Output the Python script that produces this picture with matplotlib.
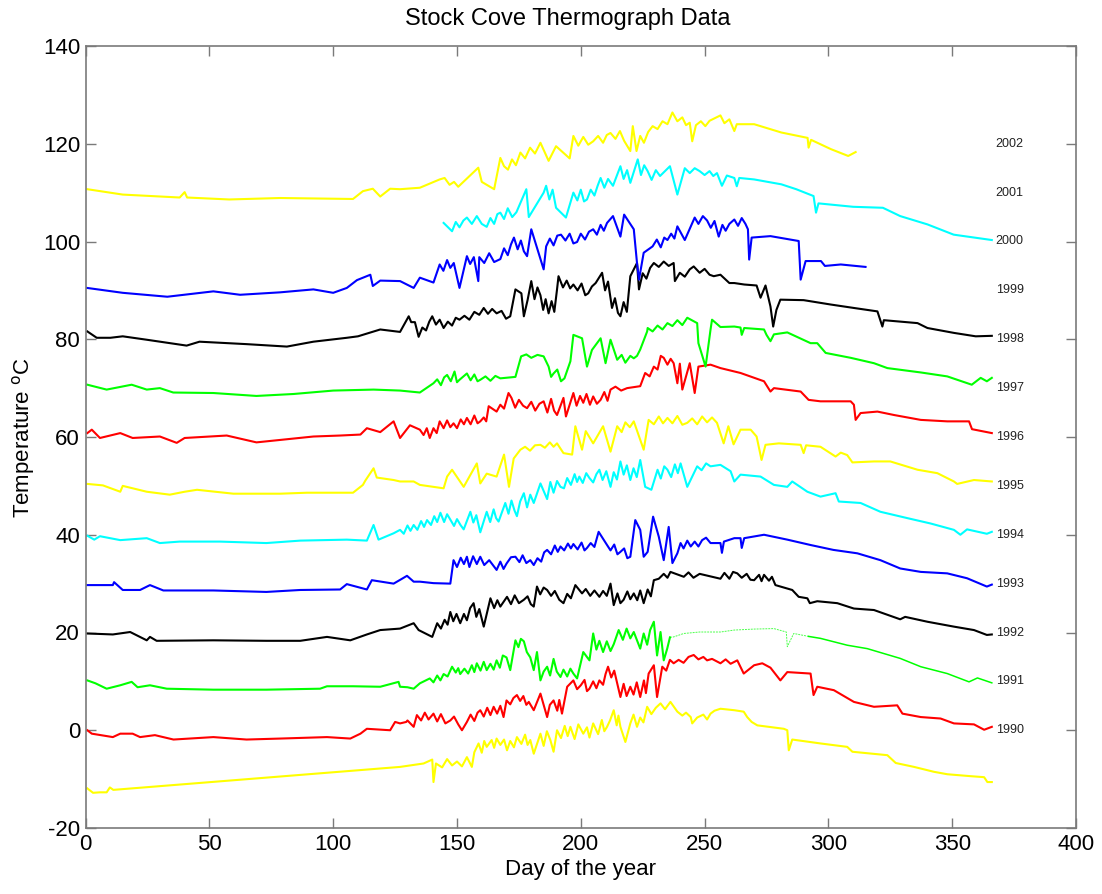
import matplotlib
matplotlib.use("Agg")
import matplotlib.pyplot as plt

plt.rcParams['font.family'] = ['Liberation Sans', 'DejaVu Sans']

# ---- data: (day of year, offset temperature) ----
s1989_yellow = [(0.7,-11.9),(3,-12.8),(5.8,-12.7),(8.5,-12.7),(9.8,-11.7),(11.2,-12.2),(127,-7.5),(136.5,-6.8),
    (140,-6.0),(140.5,-10.6),(141.5,-6.8),(150,-6.4),(154,-5.5),(156,-7.5),(158.7,-2.7),(162,-3.4),(166,-1.7),
    (170.2,-4.1),(174.2,-1.4),(179.6,-2.0),(181,-4.8),(183.7,-0.7),(187.7,-2.0),(189,-4.4),(190.4,0.0),(195.8,0.7),
    (201,-0.7),(205,1.4),(210.6,0.7),(213.3,4.1),(216,0.7),(218,-2.4),(220,1.4),(222.7,0.7),(226.8,4.8),(232.2,5.5),
    (236.2,5.8),(239,3.8),(244.4,2.7),(245,1.4),(252.4,3.4),(256.4,4.4),(262,4.1),(265.8,3.8),(267.2,2.7),(269,1.7),
    (271.3,1.0),(282,0.3),(283.4,0.0),(284,-4.1),(285.4,-1.9),(296.8,-2.7),(307.6,-3.4),(309.7,-4.4),(323.8,-5.1),
    (327.2,-6.7),(334.6,-7.5),(342.6,-8.5),(348,-9.0),(357.5,-9.4),(362.9,-9.6),(364.2,-10.6),(366,-10.6)]
s1989_yellow_detail = [(144,-7.6),(146,-5.9),(148,-7.2),(152,-7.4),(157,-4.5),(160,-4.6),(161,-2.2),(164,-2.0),
    (165,-3.6),(167.5,-3.0),(169,-1.9),(171.5,-2.2),(173,-3.5),(176,-2.8),(177.5,-0.9),(178.5,-3.0),(185,-3.2),
    (186.3,-0.2),(192,-1.6),(193.5,0.9),(194.7,-1.2),(197.5,-1.8),(199,1.2),(202.5,0.6),(203.5,-1.5),(207,-0.8),
    (208.5,2.1),(209.5,-0.2),(211.8,2.0),(214.5,1.0),(215.2,3.0),(221.3,3.2),(224,2.6),(225.3,1.6),(228.5,3.3),
    (230.3,4.6),(234,4.3),(241,3.0),(242.5,3.6),(247,2.6),(249.5,3.2),(251,2.2),(254,4.0)]

s1990_red = [(0.7,0.0),(2.5,-0.7),(11,-1.4),(14,-0.7),(19,-0.7),(22,-1.4),(28,-1.0),(35.5,-1.9),(51.6,-1.4),(65,-1.9),
    (78.6,-1.7),(97.5,-1.4),(106.9,-1.7),(111,-0.7),(113.6,0.3),(123,0.0),(125,1.7),(127,1.4),(129.5,1.7),(130,2.0),
    (132.5,0.7),(133.8,3.1),(140.5,3.4),(147.3,2.0),(152,0.0),(154,1.7),(159.4,4.1),(164.8,4.8),(168.8,2.7),(170,6.1),
    (174.2,7.2),(179,5.8),(181,4.1),(183.7,7.5),(186.4,2.7),(189,6.1),(192.4,3.4),(194.5,8.9),(197,10.2),(200,9.2),
    (203.5,8.5),(207.5,10.2),(211,13.0),(214.7,9.6),(216,6.8),(220,8.9),(224,6.8),(227.4,11.6),(229.5,13.3),
    (230.8,6.8),(232.9,13.0),(237.5,13.7),(245.6,15.4),(251,14.3),(256.4,13.7),(263.2,14.3),(265.8,11.6),(270,13.3),
    (273.3,13.7),(276.6,12.8),(280.6,10.2),(283.4,11.9),(292.8,11.6),(294,7.2),(295.5,8.9),(302.2,8.2),(310.3,5.8),
    (318.4,4.8),(327.8,5.1),(329.9,3.4),(337.3,2.7),(345.3,2.4),(350.7,1.4),(358.8,1.2),(362.9,0.1),(366,0.7)]
s1990_red_detail = [(135.5,2.0),(137,3.6),(138.5,2.2),(142,1.8),(143.5,3.3),(145.3,1.4),(148.8,2.8),(150.5,1.2),
    (155.5,3.2),(157,1.9),(158.3,3.6),(160.8,2.8),(162.2,4.6),(163.5,3.1),(166.2,3.4),(167.5,5.0),(171.5,5.3),
    (172.8,6.6),(175.5,6.0),(176.8,7.0),(178,5.2),(187.5,5.2),(190.5,4.0),(191.3,6.2),(198.5,8.4),(201.5,10.3),
    (202.5,8.0),(205,10.0),(206.3,8.6),(209,9.3),(210,11.5),(212.3,10.8),(213.5,12.2),(217.3,9.5),(218.5,7.0),
    (221.3,7.3),(222.6,9.8),(225.5,10.2),(226.3,7.6),(234.5,12.2),(236,14.4),(239.5,14.4),(241.5,13.8),(243.5,15.0),
    (247.5,14.5),(249.5,15.0),(253,14.6),(258.5,14.5),(260.5,13.6)]

s1991_green = [(0.7,10.2),(4,9.6),(8.5,8.5),(14,9.2),(18.6,9.9),(21,8.8),(26,9.2),(32.8,8.5),(51.6,8.3),(73,8.3),
    (94.7,8.5),(97.5,9.0),(108,9.0),(119,8.9),(126.4,9.9),(127,8.9),(130,8.8),(132.5,8.5),(135,9.6),(139,10.6),
    (144.6,11.5),(148,13.0),(151.3,11.5),(158,13.7),(162,12.3),(166,14.3),(170,14.9),(171.5,12.3),(173.6,18.4),
    (177,18.2),(179.6,14.9),(181,12.3),(182.3,16.0),(183.7,10.2),(186.4,13.0),(189,14.6),(191.8,10.9),(195.8,12.6),
    (198.5,10.6),(201,16.0),(203.5,14.3),(205,19.8),(209,16.0),(213.3,17.6),(215.3,20.5),(221.4,20.1),(224,16.7),
    (225.4,19.8),(229.5,22.2),(230.8,15.3),(232.2,20.1),(233.5,14.3),(234.9,16.7),(236,19.0)]
s1991_green_detail = [(140.5,9.8),(142,11.2),(143.3,10.2),(146.2,11.0),(149.5,11.8),(150.5,12.7),(153,12.6),
    (154.5,11.6),(156,13.3),(157,11.9),(159.5,12.2),(160.8,14.0),(163.5,13.6),(164.8,12.4),(167.3,12.8),(168.5,15.3),
    (174.8,17.0),(175.8,18.7),(178.2,16.0),(185,12.0),(187.6,11.2),(190.3,12.0),(193,12.4),(194.5,11.0),(197,11.6),
    (206.3,16.5),(207.5,18.3),(210.5,18.2),(212,16.2),(217,18.5),(218.5,20.8),(220,18.8),(226.8,17.5),(228,20.5)]
s1991_green_faint = [(236,19.0),(237.5,19.1),(241.6,19.8),(248,20.1),(256.4,20.1),(262,20.5),(270,20.7),(278,20.8),
    (283,20.1),(283.4,17.1),(286,19.8),(292,19.2)]
s1991_green_late = [(292,19.2),(296.8,18.8),(307.6,17.4),(315.7,16.7),(329,14.7),(337.3,13.0),(348,11.6),(356.8,9.9),
    (360.2,10.7),(366,9.7)]

s1992_black = [(0.7,19.8),(11,19.6),(18,20.1),(24.7,18.4),(26,19.1),(28.7,18.3),(51.6,18.4),(73,18.3),(86.7,18.3),
    (97.5,19.1),(106.9,18.4),(113.6,19.6),(119,20.5),(127,20.8),(132.5,21.9),(134.5,20.5),(140,19.1),(142,21.9),
    (147.3,24.2),(151.3,21.9),(156.7,26.0),(160.8,21.2),(163.5,27.0),(167.5,25.3),(170.2,27.3),(177,26.7),(181,25.3),
    (182.3,29.4),(186.4,28.7),(193,26.0),(197.8,29.7),(200.5,28.0),(207.5,27.3),(212,30.0),(213.3,25.6),(217.3,26.7),
    (221.4,28.0),(225.4,26.0),(229.5,30.7),(236.2,32.4),(241.6,31.4),(248,32.0),(256.4,31.0),(263.2,32.1),(270,30.7),
    (274,31.8),(278.6,29.7),(285.4,28.7),(288,27.3),(291.5,27.0),(292.5,26.0),(295.5,26.4),(303.6,26.0),(310.3,24.9),
    (318.4,24.6),(329,22.7),(331,23.2),(340,22.2),(350.7,21.2),(358.8,20.5),(364,19.5),(366,19.6)]
s1992_black_detail = [(143.5,20.8),(145,22.6),(146.2,21.6),(148.5,22.3),(149.8,23.8),(152.8,23.8),(154,22.5),
    (155.3,25.0),(157.8,23.2),(159,24.8),(165,25.0),(166.3,26.6),(171.8,25.8),(173.3,27.6),(175,26.0),(178.5,27.4),
    (179.8,25.8),(183.6,27.8),(185,29.2),(188,27.5),(189.5,28.5),(191.3,26.7),(194.5,27.9),(196,27.0),(202,28.9),
    (203.8,27.5),(205.5,28.6),(209,28.5),(210.5,27.5),(214.8,28.0),(216,26.0),(218.8,28.4),(220,26.8),(222.8,26.6),
    (224,28.6),(227,28.8),(228.3,27.4),(231.5,31.0),(233.5,32.0),(235,31.2),(243.5,32.3),(245.5,31.2),(258,32.2),
    (260,31.0),(261.5,32.4),(265,31.2),(267,32.0),(268.5,30.8),(272,31.8),(273,30.5),(276,30.6),(277.2,31.4)]

s1993_blue = [(0.7,29.7),(4,29.7),(11,29.7),(11.5,30.3),(15,28.7),(22,28.7),(26,29.7),(31.4,28.6),(51.6,28.6),(73,28.3),
    (86.7,28.7),(102.8,28.8),(105.5,29.9),(113.6,28.8),(115.6,30.7),(124.4,30.0),(127.8,31.0),(129.8,31.6),(132.5,30.4),
    (135,30.4),(140.5,30.1),(147.3,30.0),(148.6,34.8),(154,35.5),(155,33.4),(159.4,35.5),(163,34.8),(166,32.8),
    (170,34.1),(173.6,35.5),(179.6,34.8),(181,33.8),(186.4,36.9),(191.8,37.6),(197,38.1),(202.5,37.3),(207.2,40.6),
    (210.6,37.9),(216,36.5),(220,35.5),(222,43.0),(224,41.0),(225.4,35.5),(227,36.5),(229.2,43.7),(231.5,39.6),
    (233.5,34.8),(235.5,41.6),(237,34.2),(239,36.2),(240.3,38.3),(244.4,37.6),(249,38.9),(252.4,38.3),(256.4,38.3),
    (257,36.3),(257.8,38.6),(262,39.3),(264.5,39.3),(265,37.3),(266,39.3),(274,40.0),(283.4,39.0),(292.8,37.9),
    (302,36.9),(311.7,36.2),(321,34.8),(329,33.1),(337.3,32.4),(348,32.1),(356,31.1),(364,29.4),(366,29.8)]
s1993_blue_detail = [(150,33.4),(151.5,35.3),(152.8,34.0),(156.5,35.6),(158,34.0),(161,33.8),(167.5,34.5),(168.8,33.0),
    (171.8,35.4),(175.2,34.4),(176.5,35.8),(178,34.2),(182.5,35.2),(184,34.5),(185.2,36.4),(188,36.0),(189.5,37.8),
    (190.7,36.5),(193.3,36.8),(194.8,38.2),(196,37.2),(198.7,37.0),(200.3,38.4),(201.5,36.8),(204,38.3),(205.5,37.5),
    (212,36.8),(213.5,38.0),(214.8,36.0),(217.5,37.2),(218.8,35.2),(241.5,37.2),(243,38.8),(246,38.6),(247.5,37.6),
    (250.6,39.4)]

s1994_cyan = [(0.7,39.8),(3.5,39.0),(5.8,39.7),(14,38.9),(24.7,39.3),(30,38.3),(38,38.6),(54.3,38.6),(73,38.3),
    (86.7,38.8),(105.5,39.0),(113.6,38.8),(116.3,42.0),(118.3,39.0),(124.4,40.3),(127,41.0),(132.5,42.0),(137.9,43.0),
    (143.3,44.5),(147.3,43.1),(152.7,41.1),(155.4,44.7),(159.4,40.5),(162,44.7),(166.8,42.7),(169.5,46.5),(174.2,43.8),
    (177,48.5),(181,46.5),(183.7,50.5),(186.4,47.3),(187.7,50.8),(191.8,49.8),(194.5,51.6),(199.4,51.9),(203.5,51.6),
    (207.5,53.3),(212,49.8),(216,55.0),(220,51.2),(224,55.3),(226,49.8),(228.5,49.2),(231,53.3),(235,53.3),
    (240.3,54.6),(243,49.8),(247,54.0),(252.4,54.0),(256.4,54.3),(260.5,53.0),(262,50.9),(264.5,52.3),(272.6,51.9),
    (278,50.2),(283.4,49.8),(285.4,50.9),(291.5,48.8),(296.8,47.8),(302.9,48.5),(304.2,46.8),(313,46.5),(321,44.7),
    (331.9,43.4),(341.3,42.3),(350.7,41.0),(353.3,40.0),(356,41.1),(364,40.2),(366,40.6)]
s1994_cyan_detail = [(128.5,40.2),(130,41.9),(131.2,40.8),(134,41.0),(135.5,42.8),(136.7,41.6),(139.5,42.0),
    (140.8,43.8),(142,42.6),(144.8,42.6),(146,44.2),(148.8,41.8),(150,43.2),(151.4,42.0),(156.6,42.5),(157.8,44.0),
    (163.4,42.6),(164.8,45.2),(165.8,43.4),(170.8,44.3),(172,47.0),(173.2,45.0),(175.5,46.8),(178.3,45.6),
    (179.6,48.2),(189,48.6),(190.4,51.0),(193.2,49.5),(196,50.2),(197.5,52.4),(198.5,50.8),(200.8,50.6),(202.2,52.6),
    (205,50.7),(206.3,52.4),(208.8,51.2),(210.3,53.0),(213.3,52.8),(214.6,51.3),(217.3,52.3),(218.6,54.2),
    (221.3,53.6),(222.6,51.8),(232.3,51.5),(233.7,54.0),(236.5,51.8),(238,54.4),(239.2,52.6),(248.8,53.2),(250.6,54.6)]

s1995_yellow = [(0.7,50.4),(7,50.1),(14,48.8),(15,50.0),(24.7,48.8),(34,48.2),(40,48.8),(45,49.2),(59.7,48.4),
    (78.6,48.4),(89.4,48.6),(108,48.6),(112,50.2),(113,51.1),(116.3,53.6),(117.6,51.7),(124.4,51.2),(127,50.9),
    (132.5,50.9),(135,50.2),(144.6,49.5),(146,51.9),(148,53.3),(152.7,49.8),(158,54.6),(159.4,50.5),(162,52.5),
    (166,51.9),(169,56.4),(171,49.8),(172.9,55.6),(175.6,57.4),(183.7,58.4),(190.4,58.7),(193,56.7),(196.5,56.4),
    (197.8,62.2),(200.5,57.4),(202,61.2),(205,58.7),(209,62.2),(212,57.0),(214.7,62.2),(221.4,63.2),(225.4,57.4),
    (227.4,63.5),(235,63.9),(243,62.9),(249,64.2),(255,62.9),(257.7,58.7),(259.6,62.2),(261.7,58.5),(264.5,61.5),
    (268.6,61.5),(271,60.1),(273,55.3),(274.6,58.4),(280,58.7),(288.8,58.4),(290,56.7),(291,58.3),(296.8,58.0),
    (302.9,56.0),(305,56.8),(307.6,56.3),(309.7,54.8),(318.4,55.0),(325,55.0),(336,53.3),(344,52.6),(350.7,50.9),
    (352,50.4),(358.8,51.2),(366,50.9)]
s1995_yellow_detail = [(177.5,58.0),(179.5,57.2),(181.5,58.3),(185.5,57.8),(187.5,58.9),(189,58.0),(216.5,61.0),
    (218,63.0),(219.8,62.0),(229.5,62.6),(231.5,64.2),(233.2,62.8),(237,62.8),(239,64.3),(241,62.5),(245,63.8),
    (247,62.6),(251,63.0),(253,64.0)]

s1996_red = [(0.7,60.8),(2.5,61.5),(5.8,59.8),(14,60.8),(19,59.8),(30,60.1),(36.8,58.8),(40,59.8),(57,60.3),(69,58.9),
    (78.6,59.4),(92,60.1),(102.8,60.3),(111,60.5),(113.6,61.8),(119,61.0),(124.4,63.2),(127,59.8),(131,62.4),(135,61.5),
    (139,59.8),(143,63.2),(148.6,62.8),(154,63.9),(159.4,63.2),(162.8,66.3),(166,65.2),(170.8,69.0),(172,68.0),
    (178.3,65.9),(185,67.3),(190.4,64.5),(193,68.0),(194,64.2),(197,69.0),(201,67.0),(205,68.3),(208,67.6),(212,69.7),
    (218.7,70.0),(224,70.4),(226,73.1),(229.5,74.4),(233.5,76.2),(237.5,75.1),(239,71.0),(240,75.0),(241,69.7),
    (244,75.1),(246,69.0),(247.5,74.4),(252.4,74.8),(256.4,74.1),(264.5,73.1),(274,71.4),(276.6,69.3),(278,70.0),
    (288.8,69.3),(292,67.6),(296.8,67.3),(309,67.3),(310.3,66.6),(311,63.5),(313,64.9),(319.8,65.2),(326.5,64.5),
    (337.3,63.5),(348,63.2),(356.8,63.2),(358,61.6),(366,60.8)]
s1996_red_detail = [(136.5,60.4),(137.8,61.8),(140.5,61.8),(141.8,60.8),(144.6,61.8),(146,63.4),(147.3,62.0),
    (150,61.8),(151.5,63.6),(152.8,62.6),(155.5,62.6),(157,64.4),(158.3,62.8),(160.8,64.0),(161.8,63.2),(167.5,66.6),
    (169,65.8),(173.5,66.0),(175,67.6),(176.7,66.4),(180,67.2),(181.6,65.4),(183.3,66.8),(186.5,65.0),(188,67.8),
    (189.2,65.4),(198.3,66.4),(199.7,68.4),(202.3,68.8),(203.7,66.6),(206.5,66.8),(209.5,69.2),(210.8,67.4),
    (214,70.3),(216.3,69.5),(227.8,72.4),(231,73.8),(232.3,76.6),(235,74.8),(236.3,76.0)]

s1997_green = [(0.7,70.7),(8.5,69.7),(18.6,70.7),(24.7,69.7),(30,70.0),(35.4,69.1),(51.6,69.0),(69,68.4),(84,68.8),
    (100,69.5),(116.3,69.7),(127,69.5),(135,69.1),(140.5,71.0),(146,72.7),(151,71.7),(154,73.0),(159.4,71.7),
    (167.5,72.0),(173.6,72.3),(175.9,76.5),(185,76.5),(187,74.4),(189,73.0),(193.4,72.0),(195.8,75.5),(197,80.9),
    (200.5,80.2),(202.5,74.4),(204.5,77.8),(208,80.2),(210,75.1),(212,79.9),(214.7,75.8),(221.4,76.1),(224,77.9),
    (226.8,81.6),(227,82.3),(235,83.3),(243,84.4),(247,83.3),(247.5,79.2),(250.4,74.4),(252.4,82.0),(253,84.0),
    (256.4,82.5),(262,82.6),(264.5,82.4),(265,80.9),(266,82.3),(274,82.0),(275,80.9),(276.6,79.6),(278,81.0),
    (283.4,81.4),(292.8,79.2),(295.5,79.2),(298.9,77.2),(309,76.2),(318.4,75.1),(323.8,74.1),(337.4,73.2),(348,72.4),
    (357.9,70.7),(361.5,72.1),(364,71.4),(366,72.1)]
s1997_green_detail = [(142,71.8),(143.5,70.6),(144.8,72.2),(147.5,71.4),(149,73.4),(150,71.2),(155.5,71.6),
    (157,72.8),(158.3,71.4),(161.5,72.4),(163.5,71.5),(165.5,72.5),(178,76.9),(180,76.2),(182.5,76.8),(188,72.3),
    (190.5,73.8),(192,71.4),(216.5,76.8),(218,75.2),(220,76.6),(222.7,76.6),(229,81.6),(231,82.8),(233,82.0),
    (237,82.7),(239,83.9),(241,82.9)]

s1998_black = [(0.7,81.6),(4.5,80.3),(10,80.3),(15,80.6),(24.7,79.9),(40.8,78.7),(46,79.5),(65,79.0),(81.3,78.5),
    (92,79.5),(105.5,80.3),(110,80.6),(119,82.0),(127,81.5),(130.5,84.7),(131.5,83.5),(133,83.5),(134.5,80.5),
    (140,84.7),(144.6,82.3),(151,84.0),(160.8,86.4),(166,85.3),(171.5,84.7),(173.6,90.2),(176,89.4),(177,84.7),
    (180,91.9),(183.7,89.0),(187,85.3),(190.4,90.2),(191,92.9),(197,91.2),(203,89.4),(206,91.5),(208.6,93.6),
    (212.6,86.4),(216,84.7),(220,92.9),(222.7,95.6),(223.5,90.2),(229.5,95.6),(237.5,95.6),(238,91.9),(245.6,94.9),
    (253.7,92.9),(256.4,93.2),(260,91.5),(262,91.5),(266,91.2),(271,91.0),(272.6,88.5),(274.6,91.0),(276.6,86.7),
    (277.7,82.6),(279,86.0),(280.6,88.1),(290,88.0),(301,87.1),(310.3,86.4),(319.8,85.7),(321.8,82.6),(322.4,83.9),
    (336,83.3),(340,82.3),(350.7,81.3),(359.5,80.6),(366,80.7)]
s1998_black_detail = [(136,82.4),(137.5,81.8),(138.8,83.6),(141.5,83.0),(143,84.0),(146.3,83.6),(148,82.8),
    (149.5,84.4),(153,84.8),(155,84.0),(157,85.6),(159,85.0),(162.5,85.2),(164.2,86.2),(168,85.8),(169.8,84.2),
    (178.5,88.0),(181.3,88.2),(182.5,90.6),(184.8,86.0),(185.8,88.2),(188.2,87.8),(189.3,85.6),(192.8,90.6),
    (194.3,92.0),(195.7,90.4),(198.7,90.0),(200.3,91.4),(201.8,89.0),(204.5,90.8),(209.8,90.0),(211,91.8),
    (213.8,88.4),(215,85.4),(217.3,87.6),(218.6,85.6),(225,93.5),(226.5,92.4),(228,94.6),(231.5,94.8),(233.5,95.9),
    (235.5,95.0),(240,93.6),(242,92.8),(244,94.3),(248,93.6),(250,94.4),(252,93.2)]

s1999_blue = [(0.6,90.5),(15,89.5),(33,88.7),(51.6,89.8),(62.4,89.1),(78.6,89.6),(92,90.2),(100,89.5),(105.5,90.5),
    (109.6,92.1),(115,93.2),(116,90.9),(119,92.0),(127,91.9),(132.5,90.5),(135,92.6),(140.5,91.6),(143,95.3),
    (148.7,95.6),(151,90.5),(154,97.0),(158.6,91.9),(159,96.8),(167.5,96.4),(173,100.8),(178.3,97.0),(180,102.5),
    (185,94.3),(186,99.0),(192,101.4),(198.5,99.9),(205,102.5),(210.6,103.8),(213,105.2),(216,101.0),(217.5,105.5),
    (221.4,102.5),(222.7,95.6),(223.5,92.2),(225.4,97.7),(229,99.0),(235,100.3),(239,103.1),(242,100.3),(246,104.9),
    (251,104.3),(255.7,101.0),(260,103.6),(262,104.5),(266.5,103.6),(267.5,102.5),(268,96.3),(269,100.8),
    (276.6,101.1),(288,100.1),(288.8,92.2),(290.8,96.0),(297,96.0),(298.6,95.0),(305,95.3),(315,94.8)]
s1999_blue_detail = [(144.5,94.0),(146,96.2),(147.3,94.6),(155.3,95.4),(156.8,96.8),(161,95.6),(163,97.6),(165,95.8),
    (169,98.6),(170.5,97.2),(171.8,99.4),(174.5,98.4),(175.8,100.2),(177,98.0),(187.5,100.6),(189,99.2),(190.5,101.2),
    (193.8,100.2),(195.5,101.6),(197,99.6),(200,101.6),(201.7,100.4),(203.3,102.0),(206.5,101.4),(208,103.4),
    (209.3,102.2),(230.7,100.4),(232.3,98.8),(233.7,100.8),(236.5,101.6),(237.8,100.6),(247.5,103.6),(249.3,105.2),
    (252.5,102.8),(254,104.2),(257.2,103.4),(258.5,102.2),(263.5,103.2),(265,104.8)]

s2000_cyan = [(144.6,103.8),(148,102.1),(154,104.9),(162,103.0),(167.5,105.9),(174,106.0),(178,110.7),(179,105.0),
    (185,110.0),(186,111.4),(190,106.9),(194,104.9),(197,110.0),(202.5,108.6),(208,113.0),(213,111.4),(216,115.4),
    (220,112.0),(223,116.8),(227,114.4),(232,113.4),(236,115.4),(239,109.6),(242,115.0),(248,114.4),(255,114.0),
    (257,111.4),(259,113.5),(262,113.0),(263,111.3),(264,113.0),(270,112.7),(281,111.7),(287,110.7),(294,109.3),
    (295,105.9),(296,107.8),(310,107.1),(322,106.9),(329,105.2),(340,103.5),(350.6,101.4),(359,100.8),(366,100.3)]
s2000_cyan_detail = [(149.5,104.0),(151,102.9),(152.6,104.3),(156,103.6),(158,105.2),(160,103.6),(163.5,104.8),
    (165,103.6),(166.3,105.6),(169,104.6),(170.5,106.8),(172.3,105.0),(187.3,108.6),(188.6,110.6),(198.6,108.4),
    (200,110.6),(201.3,108.2),(204,110.6),(205.5,109.4),(206.8,111.4),(209.5,111.0),(211,112.8),(217.3,112.8),
    (218.7,114.6),(224.3,113.6),(225.6,115.6),(228.6,112.6),(230.3,114.6),(244,114.0),(246,115.0),(250,113.6),
    (252,114.4),(253.5,113.4)]

s2001_yellow = [(0.7,110.7),(15,109.6),(38,109.0),(40,110.1),(41,109.0),(58,108.6),(78.6,108.9),(108,108.7),
    (112,110.3),(116,110.8),(119,109.2),(123,110.8),(127,110.7),(135,111.0),(143,112.7),(150.5,111.2),(158.6,115.1),
    (160,112.2),(165,110.7),(167.5,117.1),(170.6,114.7),(175.6,118.2),(183.7,120.2),(187,116.5),(190,119.5),
    (195.5,117.0),(197,121.6),(205,120.5),(212,122.2),(220,118.5),(221,123.6),(222.5,118.5),(229,123.6),(237,126.4),
    (244,124.3),(245,120.5),(252,124.7),(256.4,125.8),(262,122.6),(263,124.0),(270,124.0),(281,122.3),(291.6,121.2),
    (292,119.2),(293,120.8),(301,118.9),(308,117.5),(311,118.3)]
s2001_yellow_detail = [(145,113.0),(147,111.6),(148.8,112.2),(169,115.4),(172.2,116.8),(173.8,115.6),(177.5,117.0),
    (179.5,119.2),(181.5,118.0),(199,119.6),(201,121.4),(203,119.8),(207,121.6),(209,120.2),(210.5,121.8),
    (214,121.0),(215.8,122.6),(217.5,120.6),(224,121.6),(225.5,120.2),(227.2,122.4),(231,123.0),(233,124.6),
    (235,124.0),(239,124.6),(241,125.4),(242.5,123.8),(246.5,123.8),(248.5,124.6),(250.3,123.6),(258,124.2),
    (260,125.0)]

year_labels = ['1990', '1991', '1992', '1993', '1994', '1995', '1996', '1997', '1998', '1999', '2000', '2001', '2002']
label_values = [0, 10, 20, 30, 40, 50, 60, 70, 80, 90, 100, 110, 120]

series = [
    (s1989_yellow, s1989_yellow_detail, 'yellow'), (s1990_red, s1990_red_detail, 'red'),
    (s1991_green, s1991_green_detail, 'lime'), (s1992_black, s1992_black_detail, 'black'),
    (s1993_blue, s1993_blue_detail, 'blue'), (s1994_cyan, s1994_cyan_detail, 'cyan'),
    (s1995_yellow, s1995_yellow_detail, 'yellow'), (s1996_red, s1996_red_detail, 'red'),
    (s1997_green, s1997_green_detail, 'lime'), (s1998_black, s1998_black_detail, 'black'),
    (s1999_blue, s1999_blue_detail, 'blue'), (s2000_cyan, s2000_cyan_detail, 'cyan'),
    (s2001_yellow, s2001_yellow_detail, 'yellow'),
]

fig = plt.figure(figsize=(11.02, 8.94), dpi=100)
ax = fig.add_axes([85.6 / 1102, 1 - 828 / 894, (1076 - 85.6) / 1102, (828 - 46) / 894])

LW = 1.5
for main, detail, col in series:
    pts = sorted(main + detail)
    ax.plot([d for d, _ in pts], [v for _, v in pts], color=col, lw=LW)

ax.plot([d for d, _ in s1991_green_faint], [v for _, v in s1991_green_faint],
        color='lime', lw=0.7, alpha=0.7, linestyle=(0, (2, 1)))
ax.plot([d for d, _ in s1991_green_late], [v for _, v in s1991_green_late], color='lime', lw=1.1)

for lab, val in zip(year_labels, label_values):
    ax.text(367.6, val, lab, fontsize=9, va='center', ha='left', color='#222222')

ax.set_xlim(0, 400)
ax.set_ylim(-20, 140)
ax.set_xticks(range(0, 401, 50))
ax.set_yticks(range(-20, 141, 20))
ax.set_yticklabels([str(v) for v in range(-20, 141, 20)])

for sp in ax.spines.values():
    sp.set_color('#7a7a7a')
    sp.set_linewidth(1.2)
ax.tick_params(direction='in', length=7, width=1.0, color='#7a7a7a', labelsize=16,
               top=True, right=True, labelcolor='black', pad=4)

ax.set_xlabel('Day of the year', fontsize=16, labelpad=3)
ax.set_ylabel('Temperature $^{\\mathrm{o}}$C', fontsize=16, labelpad=4)
fig.text(568 / 1102, 1 - 19 / 894, 'Stock Cove Thermograph Data', fontsize=17, ha='center', va='center')

fig.savefig('out.png', dpi=100)
